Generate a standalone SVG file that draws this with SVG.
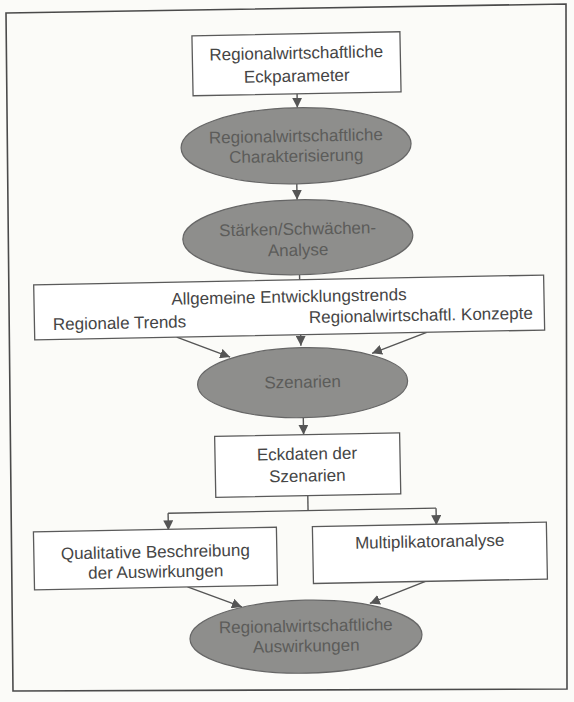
<svg xmlns="http://www.w3.org/2000/svg" width="574" height="702" viewBox="0 0 574 702">
<style>
  .bg { fill: #fbfbf8; }
  .frame { fill: none; stroke: #4a4a4a; stroke-width: 1.6; }
  .box { fill: #ffffff; stroke: #5a5a5a; stroke-width: 1.3; }
  .ell { fill: #8e8e8c; stroke: #666; stroke-width: 1.2; }
  .t { font-family: "Liberation Sans", Arial, Helvetica, sans-serif; font-size: 17px; fill: #454545; text-anchor: middle; }
  .te { font-family: "Liberation Sans", Arial, Helvetica, sans-serif; font-size: 17px; fill: #5c5c5a; text-anchor: middle; }
  .ts { text-anchor: start; }
  .c { fill: none; stroke: #555; stroke-width: 1.4; }
  .ca { fill: none; stroke: #555; stroke-width: 1.4; marker-end: url(#ah); }
</style>
<defs>
  <marker id="ah" markerUnits="userSpaceOnUse" markerWidth="11" markerHeight="10" refX="10" refY="5" orient="auto">
    <path d="M0,0 L10,5 L0,10 z" fill="#555"/>
  </marker>
</defs>
<rect class="bg" x="0" y="0" width="574" height="702"/>
<polygon class="frame" points="6,13 566,4 567,689 13,691"/>
<g transform="rotate(-1.1 287 351)">
  <g id="connectors">
    <line class="ca" x1="302" y1="94" x2="302" y2="108"/>
    <line class="ca" x1="300" y1="184" x2="300" y2="200"/>
    <line class="ca" x1="301" y1="275" x2="301" y2="346"/>
    <line class="ca" x1="177" y1="335" x2="230" y2="356"/>
    <line class="ca" x1="427" y1="335" x2="372" y2="355"/>
    <line class="ca" x1="302" y1="418" x2="302" y2="435"/>
    <line class="c" x1="305" y1="496" x2="305" y2="511"/>
    <line class="c" x1="165" y1="511" x2="433" y2="511"/>
    <line class="ca" x1="165" y1="511" x2="165" y2="528"/>
    <line class="ca" x1="433" y1="511" x2="433" y2="528"/>
    <line class="ca" x1="183" y1="585" x2="237" y2="606"/>
    <line class="ca" x1="421" y1="584" x2="365" y2="605"/>
  </g>
  <g id="eckparameter">
    <rect class="box" x="198" y="34" width="208" height="60"/>
    <text class="t" x="302" y="59">Regionalwirtschaftliche</text>
    <text class="t" x="302" y="82">Eckparameter</text>
  </g>
  <g id="charakterisierung">
    <ellipse class="ell" cx="300" cy="146" rx="115" ry="38"/>
    <text class="te" x="300" y="142">Regionalwirtschaftliche</text>
    <text class="te" x="300" y="162">Charakterisierung</text>
  </g>
  <g id="staerken">
    <ellipse class="ell" cx="300" cy="237.5" rx="115" ry="37.5"/>
    <text class="te" x="300" y="235">Stärken/Schwächen-</text>
    <text class="te" x="300" y="256">Analyse</text>
  </g>
  <g id="trends">
    <rect class="box" x="35" y="280" width="510" height="55"/>
    <text class="t" x="290" y="302.5">Allgemeine Entwicklungstrends</text>
    <text class="t ts" x="53.5" y="325.5">Regionale Trends</text>
    <text class="t ts" x="309.5" y="323.5">Regionalwirtschaftl. Konzepte</text>
  </g>
  <g id="szenarien">
    <ellipse class="ell" cx="302" cy="383" rx="105" ry="35"/>
    <text class="te" x="302" y="388">Szenarien</text>
  </g>
  <g id="eckdaten">
    <rect class="box" x="213" y="435" width="185" height="61"/>
    <text class="t" x="305" y="460">Eckdaten der</text>
    <text class="t" x="305" y="482">Szenarien</text>
  </g>
  <g id="qualitativ">
    <rect class="box" x="30" y="527" width="243" height="58"/>
    <text class="t" x="151.5" y="555">Qualitative Beschreibung</text>
    <text class="t" x="151.5" y="575">der Auswirkungen</text>
  </g>
  <g id="multiplikator">
    <rect class="box" x="309" y="527" width="234" height="57"/>
    <text class="t" x="426" y="550">Multiplikatoranalyse</text>
  </g>
  <g id="auswirkungen">
    <ellipse class="ell" cx="300.5" cy="637" rx="116" ry="36.5"/>
    <text class="te" x="300.5" y="632">Regionalwirtschaftliche</text>
    <text class="te" x="300.5" y="652">Auswirkungen</text>
  </g>
</g>
</svg>
